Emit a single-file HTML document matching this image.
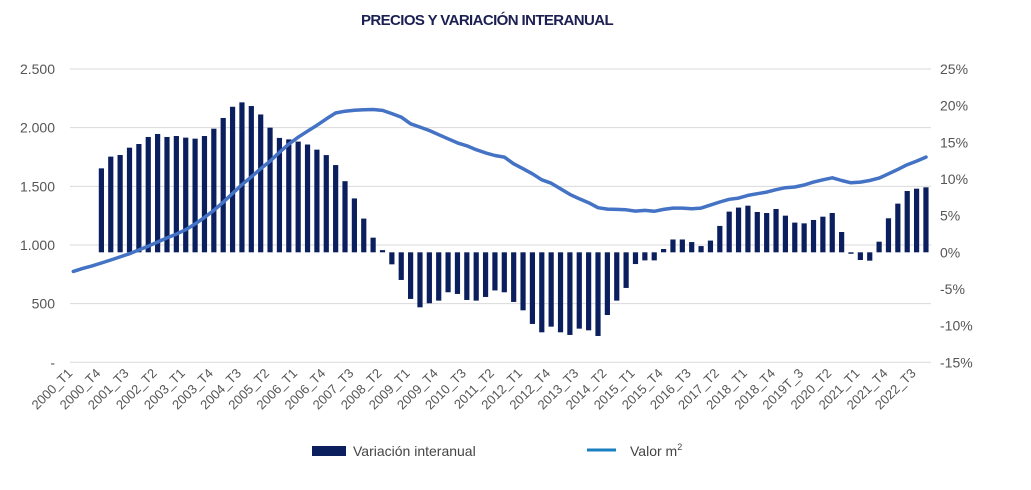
<!DOCTYPE html>
<html><head><meta charset="utf-8"><style>
html,body{margin:0;padding:0;background:#fff;}
svg{display:block;font-family:"Liberation Sans",sans-serif;}
</style></head><body>
<svg id="chart" width="1031" height="490" viewBox="0 0 1031 490" xmlns="http://www.w3.org/2000/svg">
<text x="487" y="25" text-anchor="middle" font-size="15" font-weight="bold" fill="#1b1f52" letter-spacing="-0.6">PRECIOS Y VARIACIÓN INTERANUAL</text>
<g id="grid"></g><g id="bars"></g><g id="line"></g><g id="axes"></g>
<g>
<rect x="312" y="446" width="34" height="10" fill="#0b1f5e"/>
<text x="353" y="456" font-size="14" fill="#444">Variación interanual</text>
<line x1="587" y1="450" x2="616" y2="450" stroke="#1a7fc0" stroke-width="3"/>
<text x="630" y="456" font-size="14" fill="#444">Valor m<tspan font-size="9" dy="-6">2</tspan></text>
</g>
</svg>
<script>
const tickLabels = ["2000_T1","2000_T4","2001_T3","2002_T2","2003_T1","2003_T4","2004_T3","2005_T2","2006_T1","2006_T4","2007_T3","2008_T2","2009_T1","2009_T4","2010_T3","2011_T2","2012_T1","2012_T4","2013_T3","2014_T2","2015_T1","2015_T4","2016_T3","2017_T2","2018_T1","2018_T4","2019T_3","2020_T2","2021_T1","2021_T4","2022_T3"];
const leftTicks = [0,500,1000,1500,2000,2500];
const leftTickLabels = ["-","500","1.000","1.500","2.000","2.500"];
const rightTicks = [-15,-10,-5,0,5,10,15,20,25];
const priceValues = [775,800,822,846,872,898,926,958,990,1025,1060,1093,1130,1180,1235,1295,1365,1440,1514,1580,1650,1715,1790,1860,1919,1970,2020,2075,2125,2140,2148,2152,2155,2147,2120,2090,2033,2005,1976,1940,1905,1870,1845,1812,1785,1763,
1749,1692,1650,1607,1556,1527,1479,1431,1394,1360,1318,1306,1303,1300,1289,1295,1287,1303,1314,1314,1309,1314,1340,1366,1389,1400,1423,1437,1451,1471,1488,1494,1511,1536,1556,1573,1550,1530,1536,1550,1570,1607,1644,1684,1715,1749];
const yoyValues = [null,null,null,11.45,13.05,13.27,14.27,14.77,15.73,16.14,15.73,15.86,15.64,15.5,15.86,16.86,18.32,19.85,20.45,19.95,18.8,17.0,15.6,15.4,15.1,14.7,14.0,13.26,11.9,9.7,7.35,4.6,2.0,0.3,
-1.64,-3.77,-6.36,-7.5,-6.95,-6.59,-5.45,-5.68,-6.5,-6.59,-6.09,-5.2,
-5.45,-6.77,-7.91,-9.77,-10.91,-10.14,-10.91,-11.27,-10.41,-10.64,-11.41,-8.55,-6.59,-4.86,-1.6,-1.1,-1.1,0.45,1.75,1.75,1.4,0.85,1.6,3.6,5.55,6.1,6.36,5.5,5.36,5.91,5.0,4.05,3.95,4.41,4.86,5.36,2.77,-0.2,-1.05,-1.14,1.45,4.64,6.64,8.36,8.68,8.86];

const NS="http://www.w3.org/2000/svg";
const X0=68.6, STEP=9.37, TOP=69, BOT=362.3;
function xC(i){return X0+STEP*(i+0.5);}
function yL(v){return BOT-(v/2500)*(BOT-TOP);}
function yR(p){return BOT-((p+15)/40)*(BOT-TOP);}
function mk(tag,attrs,parent){const e=document.createElementNS(NS,tag);for(const k in attrs)e.setAttribute(k,attrs[k]);parent.appendChild(e);return e;}
const grid=document.getElementById('grid'),bars=document.getElementById('bars'),line=document.getElementById('line'),axes=document.getElementById('axes');
leftTicks.forEach((v,k)=>{
  const g=mk('line',{x1:70,x2:931,y1:yL(v),y2:yL(v),stroke:'#d9d9d9','stroke-width':1},grid);
  
  
  const t=mk('text',{x:55,y:yL(v)+5,'text-anchor':'end','font-size':14,fill:'#555'},axes);
  
  
  t.textContent=leftTickLabels[k];
});
rightTicks.forEach(p=>{
  const t=mk('text',{x:940,y:yR(p)+5,'font-size':14,fill:'#555'},axes);
  
  
  t.textContent=p+'%';
});
tickLabels.forEach((s,k)=>{
  const x=xC(k*3);
  const t=mk('text',{x:x,y:374,'text-anchor':'end','font-size':13,fill:'#555',transform:`rotate(-45 ${x} 374)`},axes);
  
  
  t.textContent=s;
});
const y0=yR(0);
yoyValues.forEach((p,i)=>{
  if(p===null)return;
  const y=yR(p);
  const r=mk('rect',{x:xC(i)-2.6,y:Math.min(y,y0),width:5.2,height:Math.max(Math.abs(y-y0),1.2),fill:'#0b1f5e'},bars);
  
  
});
const pts=priceValues.map((v,i)=>xC(i).toFixed(1)+','+yL(v).toFixed(1)).join(' ');
const pl=mk('polyline',{points:pts,fill:'none',stroke:'#4472c4','stroke-width':3.5,'stroke-linejoin':'round','stroke-linecap':'round'},line);


</script>
</body></html>
